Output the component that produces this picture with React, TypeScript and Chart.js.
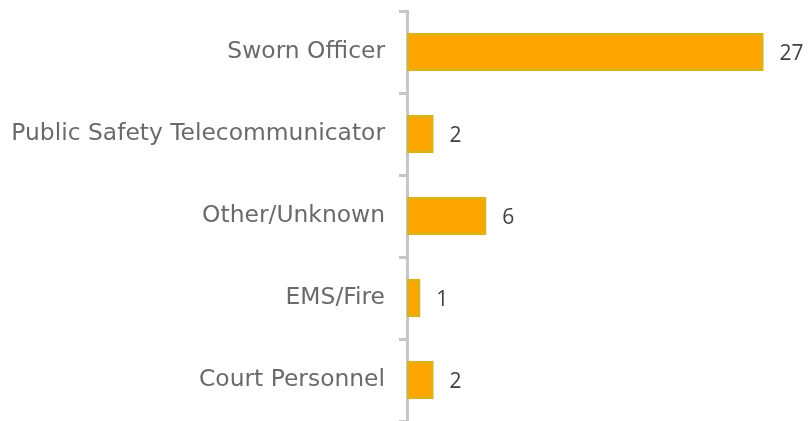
import React, { useEffect, useRef } from "react";
import { Chart, registerables } from "chart.js";

Chart.register(...registerables);

const categories = [
  "Sworn Officer",
  "Public Safety Telecommunicator",
  "Other/Unknown",
  "EMS/Fire",
  "Court Personnel",
];
const counts = [27, 2, 6, 1, 2];

const valueLabels = {
  id: "valueLabels",
  afterDatasetsDraw(chart: any) {
    const ctx = chart.ctx;
    const meta = chart.getDatasetMeta(0);
    ctx.save();
    ctx.font = "21px 'Open Sans', sans-serif";
    ctx.fillStyle = "#404040";
    ctx.textAlign = "left";
    ctx.textBaseline = "middle";
    meta.data.forEach((bar: any, i: number) => {
      ctx.fillText(String(counts[i]), bar.x + 16, bar.y + 2);
    });
    ctx.restore();
  },
};

export default function App() {
  const ref = useRef<HTMLCanvasElement | null>(null);
  useEffect(() => {
    if (!ref.current) return;
    const chart = new Chart(ref.current, {
      type: "bar",
      data: {
        labels: categories,
        datasets: [
          {
            data: counts,
            backgroundColor: "#FFA500",
            borderColor: "#DCB21A",
            borderWidth: 3,
            borderSkipped: false,
            barThickness: 38,
          },
        ],
      },
      options: {
        indexAxis: "y",
        responsive: false,
        animation: false,
        layout: { padding: { top: 11, right: 5, bottom: 0, left: 0 } },
        plugins: { legend: { display: false }, tooltip: { enabled: false } },
        scales: {
          x: { display: false, min: 0, max: 30 },
          y: {
            afterFit(scale: any) {
              scale.width = 407;
              scale.paddingTop = 0;
              scale.paddingBottom = 0;
            },
            grid: {
              drawOnChartArea: false,
              tickLength: 8,
              color: "#C6C6C6",
              lineWidth: 3,
              offset: true,
            },
            border: { color: "#C6C6C6", width: 3 },
            ticks: {
              color: "#6A6A6A",
              font: { family: "'DejaVu Sans', sans-serif", size: 23.4 },
              padding: 14,
            },
          },
        },
      },
      plugins: [valueLabels],
    });
    return () => chart.destroy();
  }, []);
  return (
    <div style={{ position: "fixed", left: 0, top: 0, width: 808, height: 421, background: "#fff" }}>
      <canvas ref={ref} width={808} height={421} />
    </div>
  );
}
